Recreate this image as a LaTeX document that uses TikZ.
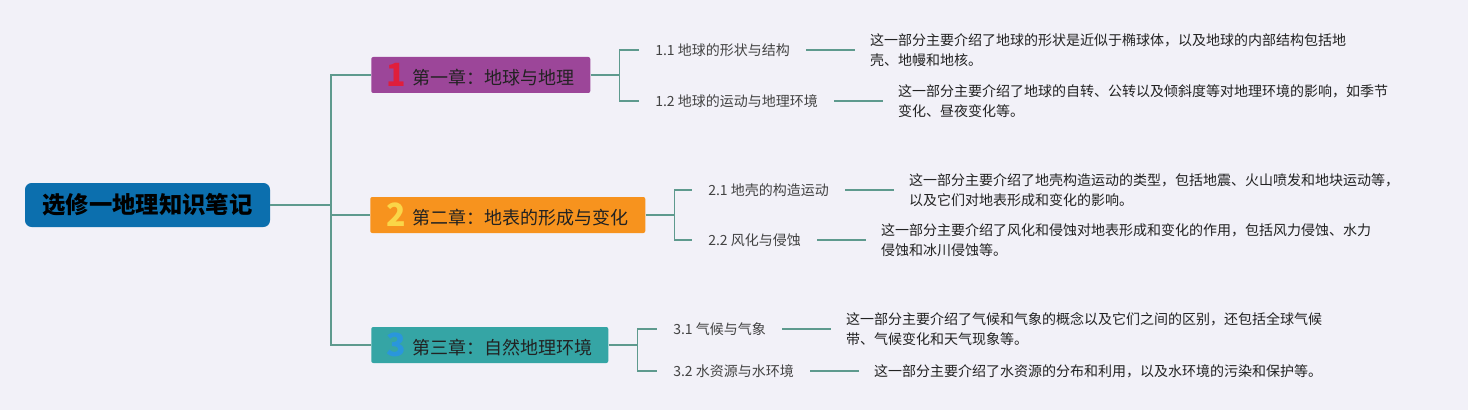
\documentclass[tikz,border=0pt]{standalone}
\usepackage{fontspec}
\setmainfont{Noto Sans CJK SC}
\usepackage{tikz}
\usetikzlibrary{positioning}
\definecolor{cbg}{HTML}{F2F1F8}
\definecolor{cline}{HTML}{5E9A8E}
\definecolor{croot}{HTML}{0C6FAE}
\definecolor{cpurple}{HTML}{9C4699}
\definecolor{corange}{HTML}{F7931E}
\definecolor{cteal}{HTML}{35A5A5}
\definecolor{cred}{HTML}{E01E3C}
\definecolor{cyellow}{HTML}{FAD648}
\definecolor{cblue}{HTML}{2A96DC}
\definecolor{cink}{HTML}{222222}
\tikzset{
  rootbx/.style={rounded corners=5pt,fill=croot,text=black,font=\fontsize{17.5}{20}\selectfont\bfseries,minimum width=183.75pt,minimum height=33pt,inner sep=0pt},
  chbx/.style={rounded corners=1.5pt,minimum height=27pt,inner xsep=0pt,inner ysep=0pt,font=\fontsize{13.5}{16}\selectfont,text=cink,anchor=west},
  sub/.style={font=\fontsize{10.5}{15}\selectfont,text=cink!85,inner xsep=12pt,inner ysep=2pt,anchor=west},
  dsc/.style={font=\fontsize{10.5}{15}\selectfont,text=cink,align=left,inner xsep=11.25pt,inner ysep=2pt},
  ln/.style={draw=cline,line width=1.1pt}}
\newcommand{\chnum}[2]{\raisebox{-1.5pt}{\color{#1}\fontsize{24}{24}\selectfont\bfseries #2}\hspace{5pt}}

\begin{document}
\begin{tikzpicture}[x=0.75pt,y=-0.75pt,node distance=36.5pt]
\fill[cbg] (0,0) rectangle (1468,410);
\useasboundingbox (0,0) rectangle (1468,410);

% ================= root and chapters =================
\node[rootbx] (root) at (147.5,205) {选修一地理知识笔记};
\node[chbx,fill=cpurple,minimum width=164.25pt] (ch1) at (371,75) {\chnum{cred}{1}第一章：地球与地理};
\node[chbx,fill=corange,minimum width=206.25pt] (ch2) at (370,215) {\chnum{cyellow}{2}第二章：地表的形成与变化};
\node[chbx,fill=cteal,minimum width=177.75pt] (ch3) at (371,345) {\chnum{cblue}{3}第三章：自然地理环境};
\coordinate (trunk) at (331,205);
\draw[ln] (root.east) -- (trunk);
\foreach \c in {ch1,ch2,ch3} \draw[ln] (trunk) |- (\c.west);

% ================= chapter 1 =================
\coordinate[right=21.75pt of ch1.east] (k1);
\draw[ln] (ch1.east) -- (k1);
\node[sub] (s11) at (639,50) {1.1 地球的形状与结构};
\node[sub] (s12) at (639,101) {1.2 地球的运动与地理环境};
\node[dsc,right=of s11] (d11) {这一部分主要介绍了地球的形状是近似于椭球体，以及地球的内部结构包括地\\壳、地幔和地核。};
\node[dsc,right=of s12] (d12) {这一部分主要介绍了地球的自转、公转以及倾斜度等对地理环境的影响，如季节\\变化、昼夜变化等。};
\draw[ln] (k1) |- (s11.west); \draw[ln] (k1) |- (s12.west);
\draw[ln] (s11.east) -- (s11.east -| d11.west);
\draw[ln] (s12.east) -- (s12.east -| d12.west);

% ================= chapter 2 =================
\coordinate[right=21.75pt of ch2.east] (k2);
\draw[ln] (ch2.east) -- (k2);
\node[sub] (s21) at (692,190) {2.1 地壳的构造运动};
\node[sub] (s22) at (692,240) {2.2 风化与侵蚀};
\node[dsc,right=of s21] (d21) {这一部分主要介绍了地壳构造运动的类型，包括地震、火山喷发和地块运动等，\\以及它们对地表形成和变化的影响。};
\node[dsc,right=of s22] (d22) {这一部分主要介绍了风化和侵蚀对地表形成和变化的作用，包括风力侵蚀、水力\\侵蚀和冰川侵蚀等。};
\draw[ln] (k2) |- (s21.west); \draw[ln] (k2) |- (s22.west);
\draw[ln] (s21.east) -- (s21.east -| d21.west);
\draw[ln] (s22.east) -- (s22.east -| d22.west);

% ================= chapter 3 =================
\coordinate[right=21.75pt of ch3.east] (k3);
\draw[ln] (ch3.east) -- (k3);
\node[sub] (s31) at (657,329) {3.1 气候与气象};
\node[sub] (s32) at (657,371) {3.2 水资源与水环境};
\node[dsc,right=of s31] (d31) {这一部分主要介绍了气候和气象的概念以及它们之间的区别，还包括全球气候\\带、气候变化和天气现象等。};
\node[dsc,right=of s32] (d32) {这一部分主要介绍了水资源的分布和利用，以及水环境的污染和保护等。};
\draw[ln] (k3) |- (s31.west); \draw[ln] (k3) |- (s32.west);
\draw[ln] (s31.east) -- (s31.east -| d31.west);
\draw[ln] (s32.east) -- (s32.east -| d32.west);

\end{tikzpicture}
\end{document}
